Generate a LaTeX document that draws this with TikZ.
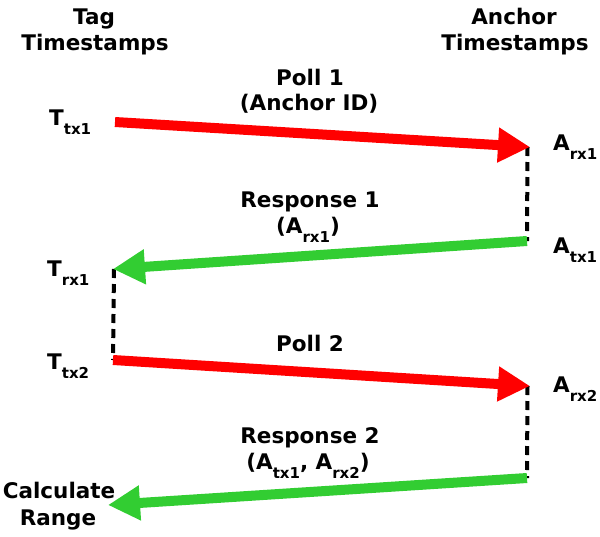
\documentclass[tikz,border=0pt]{standalone}
\usepackage{fontspec}
\setmainfont{DejaVu Sans}
\usetikzlibrary{arrows.meta}
\definecolor{pollred}{RGB}{255,0,0}
\definecolor{respgreen}{RGB}{50,205,50}
\newcommand\sbs[1]{\raisebox{-9pt}{\fontsize{15}{15}\selectfont #1}}
\tikzset{
  lbl/.style={font=\bfseries\fontsize{21.5}{26}\selectfont, inner sep=0pt, anchor=base},
  lblw/.style={lbl, anchor=base west},
  msg/.style={line width=10pt, -{Triangle[length=32pt,width=33pt]}},
  poll/.style={msg, pollred},
  resp/.style={msg, respgreen},
  wait/.style={line width=4pt, dash pattern=on 9pt off 6pt},
}
\begin{document}
\begin{tikzpicture}[x=1pt,y=-1pt]
\useasboundingbox (0,0) rectangle (600,536);
% headers
\node[lbl] (taghdrA) at (94,24) {Tag};
\node[lbl] (taghdrB) at (95,50) {Timestamps};
\node[lbl] (anchdrA) at (514,24) {Anchor};
\node[lbl] (anchdrB) at (515,50) {Timestamps};
% timestamp labels
\node[lblw] (ttx1) at (49,125) {T\sbs{tx1}};
\node[lblw] (arx1) at (553,150) {A\sbs{rx1}};
\node[lblw] (atx1) at (553,253) {A\sbs{tx1}};
\node[lblw] (trx1) at (47,276) {T\sbs{rx1}};
\node[lblw] (ttx2) at (47,369) {T\sbs{tx2}};
\node[lblw] (arx2) at (553,392) {A\sbs{rx2}};
\node[lbl] (calcA) at (59,498) {Calculate};
\node[lbl] (calcB) at (58,525) {Range};
% message labels
\node[lbl] (p1a) at (310,85) {Poll 1};
\node[lbl] (p1b) at (309,110) {(Anchor ID)};
\node[lbl] (r1a) at (310,207) {Response 1};
\node[lbl] (r1b) at (308,233) {(A\sbs{rx1})};
\node[lbl] (p2) at (310,351) {Poll 2};
\node[lbl] (r2a) at (310,443) {Response 2};
\node[lbl] (r2b) at (308,469) {(A\sbs{tx1}, A\sbs{rx2})};
% arrow end points
\coordinate (a1s) at (115,122);
\coordinate (a1e) at (530,147);
\coordinate (b1s) at (527,241);
\coordinate (b1e) at (113,269);
\coordinate (a2s) at (113,360);
\coordinate (a2e) at (530,386);
\coordinate (b2s) at (527,478);
\coordinate (b2e) at (108,505);
% waits
\coordinate (w1) at (527.5,147);
\coordinate (w2) at (114,269);
\coordinate (w3) at (527.5,386);
\draw[wait] (w1) -- (b1s);
\draw[wait] (w2) -- (a2s);
\draw[wait] (w3) -- (b2s);
% messages
\draw[poll] (a1s) -- (a1e);
\draw[resp] (b1s) -- (b1e);
\draw[poll] (a2s) -- (a2e);
\draw[resp] (b2s) -- (b2e);
\end{tikzpicture}
\end{document}
